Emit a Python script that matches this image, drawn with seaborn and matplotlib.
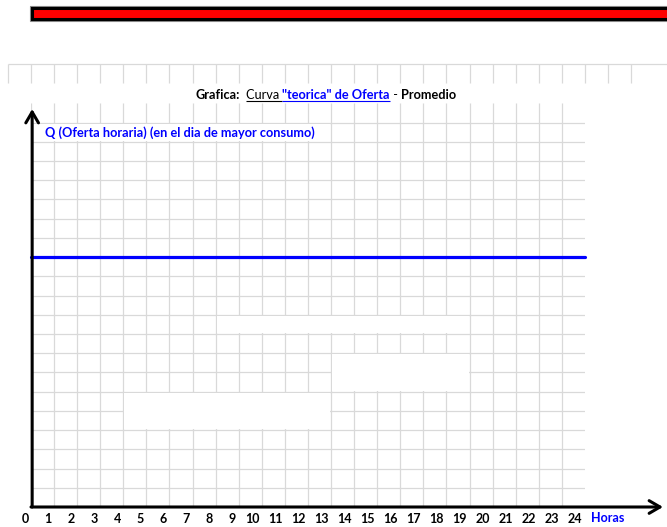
import numpy as np
import pandas as pd
import matplotlib
matplotlib.use("Agg")
import matplotlib.pyplot as plt
import matplotlib.transforms as mtransforms
import seaborn as sns
from matplotlib.patches import Rectangle

# ---------------- data ----------------
hours = list(range(0, 25))
hour_labels = [str(h) for h in hours]
oferta_q = [13] * 25          # constant "theoretical" supply (in grid rows)
y_label = "Q (Oferta horaria) (en el dia de mayor consumo)"
x_label = "Horas"
title_parts = ["Grafica:", "  ", "Curva ", "\"teorica\" de Oferta", " - ", "Promedio"]

# ---------------- style ----------------
sns.set_theme(style="white")
plt.rcParams["font.family"] = ["Lato", "DejaVu Sans"]

W, H = 667, 527
fig = plt.figure(figsize=(W / 100, H / 100), dpi=100)
fig.patch.set_facecolor("white")

# pixel-space overlay for sheet decorations
bg = fig.add_axes([0, 0, 1, 1])
bg.set_xlim(0, W)
bg.set_ylim(H, 0)
bg.axis("off")

GRID = "#d9d9d9"
COLW = 23.083
ROWH = 19.22
X0, X24 = 31.0, 31.0 + 24 * COLW
Y0, Y21 = 507.0, 507.0 - 21 * ROWH

# red banner
bg.add_patch(Rectangle((29.5, 5.5), 700, 15, fill=False, edgecolor="#8c8c8c", lw=0.8))
bg.add_patch(Rectangle((31.5, 7.5), 700, 11, facecolor="#FF0000", edgecolor="black", lw=2.2))

# top row of cell borders
bg.hlines(64.3, 8, W, color=GRID, lw=0.9)
bg.vlines([X0 + COLW * k for k in range(-1, 27)], 64.3, 83, color=GRID, lw=0.9)

# ---------------- main chart axes ----------------
ax = fig.add_axes([X0 / W, (H - Y0) / H, (X24 - X0) / W, (Y0 - Y21) / H])
ax.set_facecolor("none")
ax.set_xlim(0, 24)
ax.set_ylim(0, 21)
for s in ax.spines.values():
    s.set_visible(False)

ax.set_xticks(hours)
ax.set_xticklabels(hour_labels, ha="right", fontweight="bold", fontsize=9, color="black")
ax.set_yticks([])
ax.tick_params(which="both", length=0)
ax.tick_params(axis="x", which="major", pad=4.5)
ax.grid(False)
shift = mtransforms.ScaledTranslation(-2.5 / 100, 0, fig.dpi_scale_trans)
for lbl in ax.get_xticklabels():
    lbl.set_transform(lbl.get_transform() + shift)

# spreadsheet cell grid
ax.vlines(hours[:24], 0, 21, color=GRID, lw=0.9, zorder=0.5)
ax.hlines(np.arange(0, 21), 0, 24, color=GRID, lw=0.9, zorder=0.5)

# merged (border-less) cells
for (h0, h1, r0, r1) in [(8, 19, 9, 10), (13, 19, 6, 8), (4, 13, 4, 6), (0, 13, 19, 20)]:
    e = 0.045
    ax.add_patch(Rectangle((h0 + e, r0 + 0.06), h1 - h0 - 2 * e, r1 - r0 - 0.12,
                           facecolor="white", edgecolor="none", zorder=1))

# supply line
df = pd.DataFrame({"hora": hours, "Q": oferta_q})
sns.lineplot(data=df, x="hora", y="Q", ax=ax, color="#0000FF", lw=2.3, zorder=4)
for ln in ax.lines:
    ln.set_clip_on(False)
ax.set_xlabel("")
ax.set_ylabel("")

# axis arrows
arrow = dict(arrowstyle="->,head_length=0.65,head_width=0.38", lw=2.2, color="black",
             shrinkA=0, shrinkB=0)
ax.annotate("", xy=(0.05, (Y0 - 109) / ROWH), xytext=(0.05, 0), arrowprops=arrow,
            annotation_clip=False, zorder=5)
ax.annotate("", xy=((663 - X0) / COLW, 0), xytext=(0, 0), arrowprops=arrow,
            annotation_clip=False, zorder=5)

# axis labels
ax.text((45 - X0) / COLW, (Y0 - 136.7) / ROWH, y_label, color="#0000FF", fontweight="bold",
        fontsize=9.2, va="baseline", ha="left", zorder=6)
ax.text((591 - X0) / COLW, (Y0 - 518.5) / ROWH, x_label, color="#0000FF", fontweight="bold",
        fontsize=9, va="center", ha="left", clip_on=False)

# title (rich text pieces)
styles = [("bold", "black"), ("normal", "black"), ("normal", "black"),
          ("bold", "#0000FF"), ("normal", "black"), ("bold", "black")]
pieces = []
t = bg.text(195, 99, title_parts[0], fontsize=9.2, fontweight=styles[0][0],
            color=styles[0][1], ha="left", va="baseline")
pieces.append(t)
for part, (fw, c) in zip(title_parts[1:], styles[1:]):
    t = bg.annotate(part, xy=(1, 0), xycoords=pieces[-1], fontsize=9.2, fontweight=fw,
                    color=c, ha="left", va="bottom")
    pieces.append(t)

fig.canvas.draw()
for idx, col in [(2, "black"), (3, "#0000FF")]:
    bb = pieces[idx].get_window_extent()
    bg.hlines(101, bb.x0, bb.x1, color=col, lw=0.8)

fig.savefig("out.png", dpi=100, facecolor="white")
